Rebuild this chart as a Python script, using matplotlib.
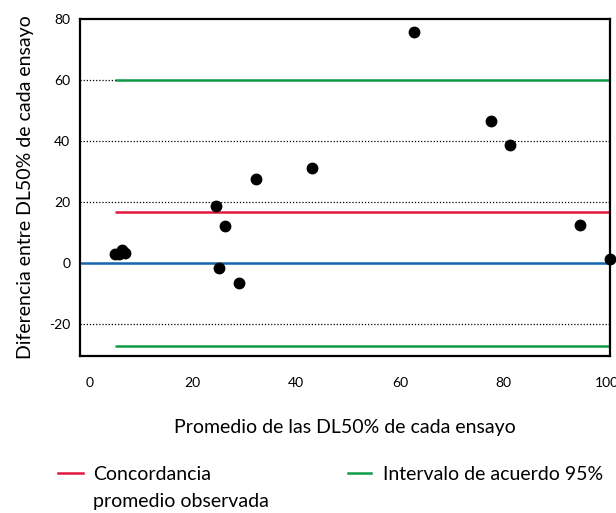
import matplotlib
matplotlib.use("Agg")
import matplotlib.pyplot as plt
from matplotlib.lines import Line2D

plt.rcParams["font.family"] = ["Lato", "DejaVu Sans"]
plt.rcParams["axes.unicode_minus"] = False

# promedio vs diferencia de DL50% (Bland-Altman)
promedio = [5.0, 5.8, 6.3, 6.9, 24.4, 25.1, 26.3, 28.9, 32.2, 43.0, 62.8, 77.6, 81.2, 94.8, 100.6]
diferencia = [3.0, 2.8, 4.2, 3.2, 18.6, -1.5, 12.1, -6.5, 27.6, 31.3, 75.7, 46.5, 38.7, 12.3, 1.2]
concordancia = 16.7
limites = [60.0, -27.2]
grid_y = [-20, 20, 40, 60]
xticks = [0, 20, 40, 60, 80, 100]
yticks = [-20, 0, 20, 40, 60, 80]
leyenda = ["Concordancia\npromedio observada", "Intervalo de acuerdo 95%"]

ROJO = "#e3173e"
VERDE = "#109b47"
AZUL = "#1565b0"

W, H = 616, 513
fig = plt.figure(figsize=(W / 100, H / 100), dpi=100)
ax = fig.add_axes([80 / W, 1 - 356 / H, 530 / W, 337 / H])
xmin, xmax = -1.8, 100.6
ax.set_xlim(xmin, xmax)
ax.set_ylim(-30.5, 80)

for g in grid_y:
    ax.axhline(g, color="black", lw=0.9, ls=(0, (1, 1.5)), zorder=1)
ax.axhline(0, color=AZUL, lw=1.8, zorder=2)

x0 = min(promedio)
ax.hlines(concordancia, x0, xmax, color=ROJO, lw=1.8, zorder=2)
ax.hlines(limites, x0, xmax, color=VERDE, lw=1.8, zorder=2)

ax.plot(promedio, diferencia, "o", color="black", ms=7.5, zorder=5, clip_on=False)

ax.set_xticks(xticks)
ax.set_yticks(yticks)
ax.tick_params(axis="both", length=0, labelsize=10)
ax.tick_params(axis="x", pad=15)
ax.tick_params(axis="y", pad=7)
for s in ax.spines.values():
    s.set_linewidth(1.6)

ax.set_xlabel("Promedio de las DL50% de cada ensayo", fontsize=14, labelpad=22)
ax.set_ylabel("Diferencia entre DL50% de cada ensayo", fontsize=14, labelpad=11)

# leyenda abajo, manual (el guion va con la primera linea)
for (x1, x2, tx), color, txt in zip([(58, 83, 93), (348, 371, 383)], [ROJO, VERDE], leyenda):
    yy = 1 - 473 / H
    fig.add_artist(Line2D([x1 / W, x2 / W], [yy, yy], color=color, lw=1.8))
    fig.text(tx / W, 1 - 466 / H, txt, fontsize=14, va="top", ha="left", linespacing=1.72)

fig.savefig("out.png", dpi=100)
